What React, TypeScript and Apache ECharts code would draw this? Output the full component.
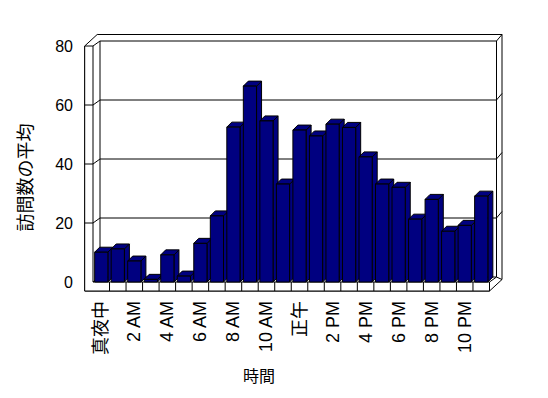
import React, { useEffect, useRef } from "react";
import * as echarts from "echarts";

const CATEGORIES = [
  "真夜中", "1 AM", "2 AM", "3 AM", "4 AM", "5 AM", "6 AM", "7 AM", "8 AM", "9 AM", "10 AM", "11 AM",
  "正午", "1 PM", "2 PM", "3 PM", "4 PM", "5 PM", "6 PM", "7 PM", "8 PM", "9 PM", "10 PM", "11 PM",
];
const VALUES = [
  10.1, 11.2, 7.1, 0.9, 9.2, 2.0, 13.1, 22.4, 52.5, 66.4, 54.6, 33.2,
  51.5, 49.5, 53.5, 52.4, 42.4, 33.2, 32.1, 21.3, 28.0, 17.2, 19.2, 29.1,
];
const Y_TICKS = [20, 40, 60];
const Y_MIN = 0;
const Y_MAX = 80;
const Y_INTERVAL = 20;
const X_TITLE = "時間";
const Y_TITLE = "訪問数の平均";

const FONT = "Arial, Liberation Sans, Noto Sans CJK JP, sans-serif";
const BAR_COLOR = "#000080";

// 3D geometry (pixels)
const DX = 7, DY = -5; // depth from front plane to back wall face
const TX = 5.5, TY = -6.5; // wall thickness offset
const WALL = 8.3; // left wall thickness
const FLOOR = 9; // floor thickness
const BDX = 5, BDY = -5; // bar depth

export default function App() {
  const ref = useRef<HTMLDivElement>(null);
  useEffect(() => {
    const chart = echarts.init(ref.current!, undefined, { renderer: "svg" });
    const line = (x1: number, y1: number, x2: number, y2: number) => ({
      type: "line",
      shape: { x1, y1, x2, y2 },
      style: { stroke: "#000", lineWidth: 1 },
    });
    const frameRender = (params: any, api: any) => {
      const bw = api.size([1, 0])[0];
      const L = api.coord([0, 0])[0] - bw / 2;
      const R = api.coord([CATEGORIES.length - 1, 0])[0] + bw / 2;
      const B = api.coord([0, Y_MIN])[1];
      const T = api.coord([0, Y_MAX])[1];
      const OX = DX + TX, OY = DY + TY;
      const children: any[] = [];
      children.push({
        type: "polygon",
        shape: {
          points: [
            [L - WALL, T], [L - WALL + OX, T + OY], [R + OX, T + OY], [R + OX, B + FLOOR + OY],
            [R, B + FLOOR], [L - WALL, B + FLOOR],
          ],
        },
        style: { fill: "#fff", stroke: "#000", lineWidth: 1 },
      });
      children.push({
        type: "polygon",
        shape: {
          points: [
            [L - WALL, T], [L, T], [L, B], [R, B], [R, B + FLOOR], [L - WALL, B + FLOOR],
          ],
        },
        style: { fill: "#fff", stroke: "#000", lineWidth: 1 },
      });
      children.push(line(L, T, L + DX, T + DY));
      children.push(line(L + DX, T + DY, R + DX, T + DY));
      children.push(line(R + DX, T + DY, R + OX, T + OY));
      children.push(line(L + DX, T + DY, L + DX, B + DY));
      children.push(line(R + DX, T + DY, R + DX, B + DY));
      children.push(line(L + DX, B + DY, R + DX, B + DY));
      children.push(line(L, B, L + DX, B + DY));
      children.push(line(R, B, R + DX, B + DY));
      children.push(line(R + DX, B + DY, R + OX, B + FLOOR + OY));
      Y_TICKS.forEach((v) => {
        const y = api.coord([0, v])[1];
        children.push(line(L - WALL, y, L, y));
        children.push(line(L, y, L + DX, y + DY));
        children.push(line(L + DX, y + DY, R + DX, y + DY));
        children.push(line(R + DX, y + DY, R + OX, y + OY));
      });
      for (let i = 1; i < CATEGORIES.length; i++) {
        const x = L + bw * i;
        children.push(line(x, B, x, B + FLOOR));
      }
      return { type: "group", children };
    };
    const barRender = (params: any, api: any) => {
      const i = api.value(0);
      const v = api.value(1);
      const top = api.coord([i, v]);
      const base = api.coord([i, 0]);
      const bw = api.size([1, 0])[0];
      const w = bw * 0.8;
      const x0 = top[0] - w / 2;
      const yt = top[1];
      const yb = base[1];
      const st = { fill: BAR_COLOR, stroke: "#000", lineWidth: 1 };
      return {
        type: "group",
        children: [
          {
            type: "polygon",
            shape: { points: [[x0 + w, yt], [x0 + w + BDX, yt + BDY], [x0 + w + BDX, yb + BDY], [x0 + w, yb]] },
            style: st,
          },
          {
            type: "polygon",
            shape: { points: [[x0, yt], [x0 + BDX, yt + BDY], [x0 + w + BDX, yt + BDY], [x0 + w, yt]] },
            style: st,
          },
          { type: "rect", shape: { x: x0, y: yt, width: w, height: yb - yt }, style: st },
        ],
      };
    };
    chart.setOption({
      animation: false,
      backgroundColor: "#fff",
      grid: { left: 93, right: 58.5, top: 46, bottom: 116 },
      xAxis: {
        type: "category",
        data: CATEGORIES,
        axisLine: { show: false },
        axisTick: { show: false },
        splitLine: { show: false },
        axisLabel: {
          interval: 1,
          rotate: 90,
          margin: 19,
          fontSize: 18,
          color: "#000",
          fontFamily: FONT,
        },
      },
      yAxis: {
        type: "value",
        min: Y_MIN,
        max: Y_MAX,
        interval: Y_INTERVAL,
        axisLine: { show: false },
        axisTick: { show: false },
        splitLine: { show: false },
        axisLabel: { margin: 20, fontSize: 16, color: "#000", fontFamily: FONT },
      },
      graphic: [
        {
          type: "text",
          x: 259,
          y: 376,
          style: {
            text: X_TITLE,
            fontSize: 16,
            fontFamily: FONT,
            fill: "#000",
            textAlign: "center",
            textVerticalAlign: "middle",
          },
        },
        {
          type: "text",
          x: 26,
          y: 177.5,
          rotation: Math.PI / 2,
          style: {
            text: Y_TITLE,
            fontSize: 18,
            fontFamily: FONT,
            fill: "#000",
            textAlign: "center",
            textVerticalAlign: "middle",
          },
        },
      ],
      series: [
        {
          type: "custom",
          z: 1,
          renderItem: frameRender,
          data: [[0, 0]],
          silent: true,
        },
        {
          type: "custom",
          z: 2,
          renderItem: barRender,
          data: VALUES.map((v, i) => [i, v]),
        },
      ],
    });
    return () => chart.dispose();
  }, []);
  return (
    <div
      ref={ref}
      style={{ position: "fixed", left: 0, top: 0, width: 548, height: 398, background: "#fff" }}
    />
  );
}
